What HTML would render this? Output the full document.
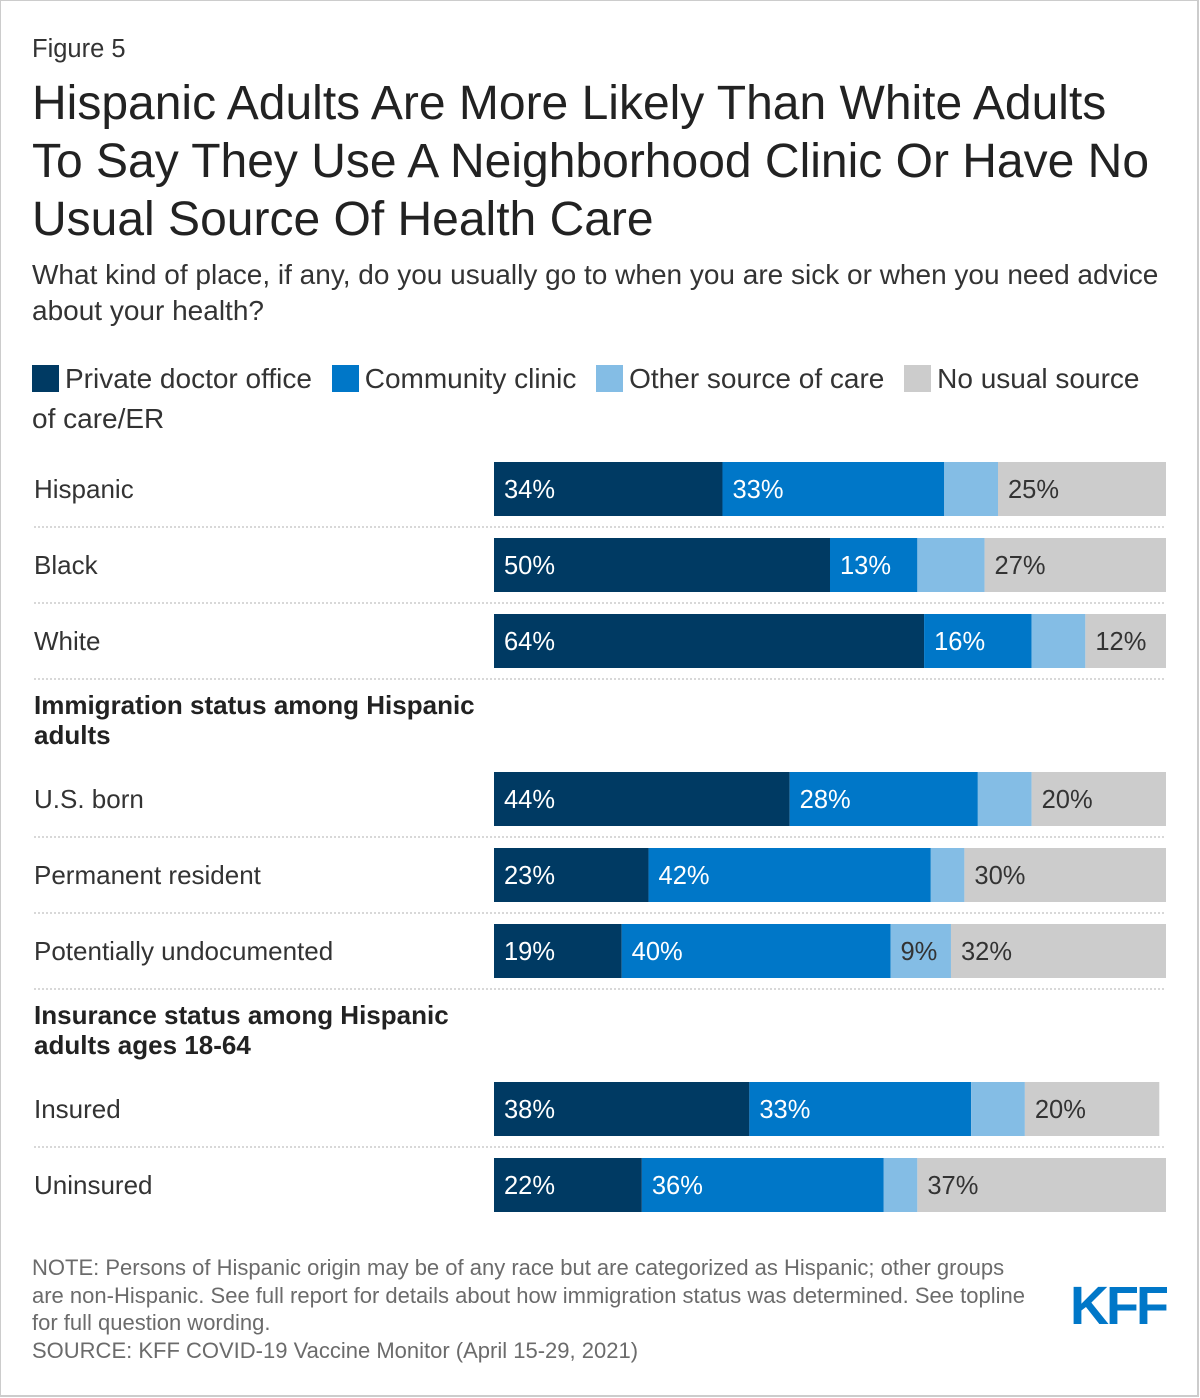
<!DOCTYPE html>
<html><head><meta charset="utf-8"><style>
body{margin:0;background:#fff;font-family:"Liberation Sans",sans-serif;}
#wrap{position:relative;width:1196px;height:1394px;border:2px solid #ccc;border-top:1px solid #ccc;border-left:1px solid #ccc;overflow:hidden;}
.t{position:absolute;white-space:nowrap;}
</style></head><body>
<div id="wrap">
<div class="t" style="left:31px;top:34px;font-size:25.5px;color:#333;">Figure 5</div>
<div class="t" style="left:31px;top:74px;font-size:48px;line-height:58px;color:#222;">Hispanic Adults Are More Likely Than White Adults<br>To Say They Use A Neighborhood Clinic Or Have No<br>Usual Source Of Health Care</div>
<div class="t" style="left:31px;top:256px;font-size:28px;line-height:36px;color:#333;">What kind of place, if any, do you usually go to when you are sick or when you need advice<br>about your health?</div>
<div class="t" style="left:31px;top:358px;font-size:28px;line-height:40px;color:#333;">
<span><span style="display:inline-block;width:27px;height:27px;background:#003a63;vertical-align:-4px;margin-right:6px"></span>Private doctor office</span>
<span style="margin-left:12px"><span style="display:inline-block;width:27px;height:27px;background:#0077c8;vertical-align:-4px;margin-right:6px"></span>Community clinic</span>
<span style="margin-left:12px"><span style="display:inline-block;width:27px;height:27px;background:#84bde5;vertical-align:-4px;margin-right:6px"></span>Other source of care</span>
<span style="margin-left:12px"><span style="display:inline-block;width:27px;height:27px;background:#cccccc;vertical-align:-4px;margin-right:6px"></span>No usual source</span><br>of care/ER</div>
<svg id="chart" width="1200" height="1240" style="position:absolute;left:0;top:0"></svg>
<div class="t" style="left:31px;top:1253px;font-size:22px;line-height:27.5px;color:#6b6b6b;">NOTE: Persons of Hispanic origin may be of any race but are categorized as Hispanic; other groups<br>are non-Hispanic. See full report for details about how immigration status was determined. See topline<br>for full question wording.<br>SOURCE: KFF COVID-19 Vaccine Monitor (April 15-29, 2021)</div>
<div class="t" style="left:1069px;top:1274px;font-size:54px;font-weight:bold;color:#0077c8;letter-spacing:-3px;">KFF</div>
</div>
<script>
const categories=["Hispanic","Black","White","U.S. born","Permanent resident","Potentially undocumented","Insured","Uninsured"];
const privateVals=[34,50,64,44,23,19,38,22];
const communityVals=[33,13,16,28,42,40,33,36];
const otherVals=[8,10,8,8,5,9,8,5];
const noneVals=[25,27,12,20,30,32,20,37];
const otherLabelShown=[false,false,false,false,false,true,false,false];
const rowCenters=[488,564,640,798,874,950,1108,1184];
const headers=[{text:["Immigration status among Hispanic","adults"],y:704},{text:["Insurance status among Hispanic","adults ages 18-64"],y:1014}];
const svg=document.getElementById('chart');const NS="http://www.w3.org/2000/svg";
const x0=493,scale=6.72,bh=54;
function X(v){return x0+v*scale;}
function mk(t,a){const e=document.createElementNS(NS,t);for(const k in a)e.setAttribute(k,a[k]);svg.appendChild(e);return e;}
const series=[[privateVals,"#003a63","#fff","private"],[communityVals,"#0077c8","#fff","community"],[otherVals,"#84bde5","#333","other"],[noneVals,"#cccccc","#333","none"]];
categories.forEach((c,i)=>{
 const cy=rowCenters[i];
 const lab=mk('text',{x:33,y:cy+9,'font-size':26,fill:'#333'});lab.textContent=c;
 
 
 let cum=0;
 series.forEach(([arr,col,tc,nm],s)=>{
  const v=arr[i];
  const r=mk('rect',{x:X(cum),y:cy-bh/2,width:v*scale,height:bh,fill:col});
  
  
  if(s!==2||otherLabelShown[i]){
   const t=mk('text',{x:X(cum)+10,y:cy+9,'font-size':25.5,fill:tc});t.textContent=v+'%';
   
   
  }
  cum+=v;
 });
 if(i<7){const ln=mk('line',{x1:33,x2:1165,y1:cy+38,y2:cy+38,stroke:'#ccc','stroke-width':1.5,'stroke-dasharray':'2,2'});
  
  }
});
headers.forEach(h=>{h.text.forEach((s,k)=>{const t=mk('text',{x:33,y:h.y+9+k*30,'font-size':26,'font-weight':'bold',fill:'#222'});t.textContent=s;
 
 });});
</script>
</body></html>
